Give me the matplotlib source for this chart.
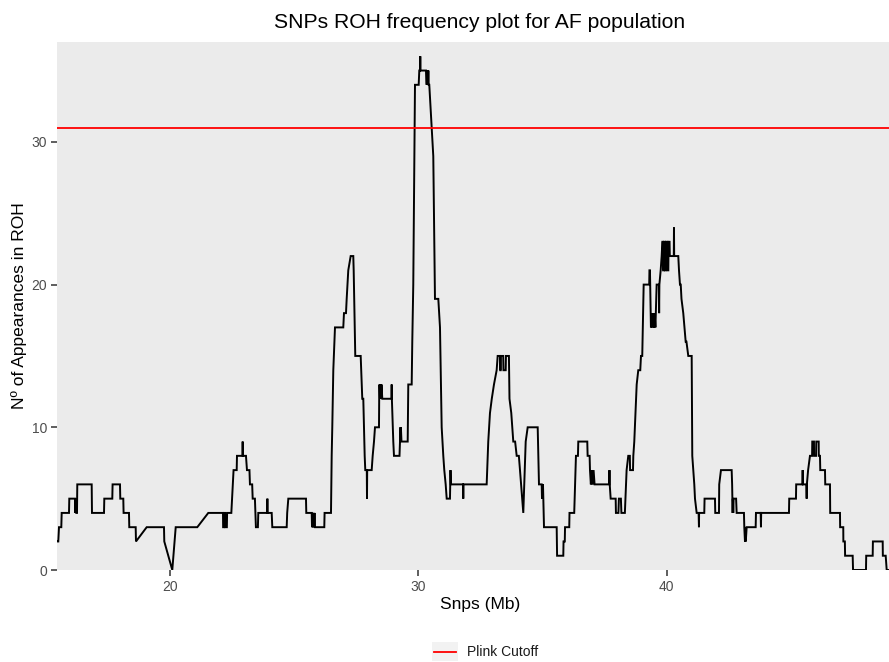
import matplotlib
matplotlib.use("Agg")
import matplotlib.pyplot as plt
from matplotlib.patches import Rectangle
from matplotlib.lines import Line2D

plt.rcParams['font.family'] = ['Liberation Sans', 'DejaVu Sans']

# SNP position (Mb) and number of individuals with that SNP inside a ROH
pos = [15.449, 15.501, 15.529, 15.622, 15.638, 15.932, 15.944,
       16.174, 16.186, 16.214, 16.226, 16.254, 16.266, 16.846, 16.858,
       17.342, 17.354, 17.676, 17.688, 17.986, 17.998, 18.119, 18.131,
       18.348, 18.360, 18.618, 18.630, 19.061, 19.758, 19.770, 20.092,
       20.230, 21.099, 21.542, 22.134, 22.140, 22.180, 22.190, 22.220,
       22.230, 22.290, 22.300, 22.470, 22.530, 22.560, 22.686, 22.698,
       22.919, 22.927, 22.935, 23.060, 23.100, 23.200, 23.220, 23.310,
       23.330, 23.420, 23.460, 23.540, 23.556, 23.914, 23.922, 23.930,
       24.096, 24.120, 24.700, 24.720, 24.765, 25.477, 25.489, 25.707,
       25.720, 25.740, 25.760, 25.780, 25.800, 25.820, 25.840, 26.214,
       26.226, 26.484, 26.512, 26.536, 26.577, 26.645, 26.979, 27.007,
       27.088, 27.116, 27.180, 27.277, 27.382, 27.398, 27.462, 27.680,
       27.744, 27.785, 27.841, 27.865, 27.926, 27.934, 27.942, 28.123,
       28.163, 28.216, 28.256, 28.417, 28.425, 28.437, 28.457, 28.477,
       28.497, 28.518, 28.550, 28.920, 28.928, 28.936, 28.993, 29.021,
       29.243, 29.283, 29.291, 29.299, 29.323, 29.573, 29.597, 29.734,
       29.758, 29.798, 29.867, 30.016, 30.040, 30.072, 30.080, 30.088,
       30.310, 30.338, 30.350, 30.362, 30.376, 30.390, 30.405, 30.419,
       30.443, 30.604, 30.672, 30.806, 30.874, 30.942, 31.007, 31.047,
       31.103, 31.144, 31.276, 31.297, 31.313, 31.804, 31.812, 31.820,
       32.754, 32.818, 32.887, 32.960, 33.048, 33.156, 33.197, 33.290,
       33.300, 33.320, 33.330, 33.420, 33.430, 33.520, 33.530, 33.650,
       33.673, 33.745, 33.826, 33.900, 33.963, 34.050, 34.096, 34.229,
       34.326, 34.406, 34.809, 34.861, 34.970, 34.982, 35.022, 35.035,
       35.063, 35.574, 35.590, 35.840, 35.850, 35.900, 35.910, 36.080,
       36.090, 36.280, 36.330, 36.350, 36.430, 36.444, 36.806, 36.820,
       36.900, 36.915, 36.950, 36.983, 37.020, 37.060, 37.100, 37.116,
       37.690, 37.700, 37.710, 37.748, 37.950, 37.960, 38.060, 38.080,
       38.160, 38.180, 38.320, 38.390, 38.457, 38.520, 38.530, 38.647,
       38.660, 38.699, 38.796, 38.860, 38.940, 38.969, 39.020, 39.077,
       39.300, 39.310, 39.330, 39.370, 39.400, 39.430, 39.460, 39.490,
       39.520, 39.550, 39.600, 39.690, 39.700, 39.710, 39.762, 39.802,
       39.830, 39.850, 39.860, 39.890, 39.900, 39.930, 39.940, 39.970,
       39.980, 40.030, 40.040, 40.070, 40.080, 40.120, 40.130, 40.290,
       40.298, 40.306, 40.471, 40.500, 40.539, 40.570, 40.600, 40.672,
       40.769, 40.800, 40.874, 41.011, 41.035, 41.075, 41.116, 41.144,
       41.212, 41.290, 41.304, 41.310, 41.518, 41.530, 41.949, 41.960,
       42.110, 42.120, 42.190, 42.621, 42.640, 42.650, 42.660, 42.670,
       42.685, 42.700, 42.800, 42.822, 43.116, 43.130, 43.157, 43.170,
       43.190, 43.225, 43.588, 43.600, 43.790, 43.801, 43.810, 44.929,
       44.940, 45.211, 45.220, 45.470, 45.481, 45.490, 45.630, 45.642,
       45.650, 45.700, 45.775, 45.860, 45.868, 45.936, 45.940, 46.020,
       46.029, 46.126, 46.130, 46.178, 46.190, 46.380, 46.390, 46.581,
       46.590, 46.984, 46.990, 47.116, 47.120, 47.180, 47.190, 47.495,
       47.510, 48.031, 48.040, 48.301, 48.310, 48.704, 48.710, 48.825,
       48.865, 48.958]

count = [2, 2, 3, 3, 4, 4, 5,
         5, 4, 5, 4, 4, 6, 6, 4,
         4, 5, 5, 6, 6, 5, 5, 4,
         4, 3, 3, 2, 3, 3, 2, 0,
         3, 3, 4, 4, 3, 3, 4, 4,
         3, 3, 4, 4, 6, 7, 7, 8,
         8, 9, 8, 8, 7, 7, 6, 6,
         5, 5, 3, 3, 4, 4, 5, 4,
         4, 3, 3, 4, 5, 5, 4, 4,
         3, 4, 3, 4, 3, 4, 3, 3,
         4, 4, 8, 10, 14, 17, 17, 18,
         18, 19, 21, 22, 22, 21, 15, 15,
         12, 12, 8, 7, 7, 5, 7, 7,
         8, 9, 10, 10, 12, 13, 12, 13,
         12, 13, 12, 12, 13, 12, 9, 8,
         8, 10, 9, 10, 9, 9, 13, 13,
         16, 20, 34, 34, 35, 35, 36, 35,
         35, 34, 35, 34, 35, 34, 35, 34,
         34, 29, 19, 19, 17, 10, 8, 7,
         6, 5, 5, 7, 6, 6, 5, 6,
         6, 9, 11, 12, 13, 14, 15, 15,
         14, 14, 15, 15, 14, 14, 15, 15,
         12, 11, 9, 9, 8, 8, 7, 4,
         9, 10, 10, 6, 6, 5, 6, 5,
         3, 3, 1, 1, 2, 2, 3, 3,
         4, 4, 7, 8, 8, 9, 9, 8,
         8, 7, 6, 7, 6, 7, 6, 6,
         6, 7, 6, 5, 5, 4, 4, 5,
         5, 4, 4, 7, 8, 8, 7, 7,
         8, 9, 13, 14, 14, 15, 15, 20,
         20, 21, 21, 17, 18, 17, 18, 17,
         18, 17, 20, 20, 18, 20, 21, 22,
         23, 23, 21, 21, 23, 23, 21, 21,
         23, 23, 21, 21, 23, 23, 22, 22,
         24, 22, 22, 21, 20, 20, 19, 18,
         16, 16, 15, 15, 8, 7, 6, 5,
         4, 4, 3, 4, 4, 5, 5, 4,
         4, 6, 7, 7, 6, 5, 4, 5,
         4, 5, 5, 4, 4, 3, 2, 3,
         2, 3, 3, 4, 4, 3, 4, 4,
         5, 5, 6, 6, 7, 6, 6, 5,
         6, 7, 8, 8, 9, 9, 8, 8,
         9, 9, 8, 8, 7, 7, 6, 6,
         4, 4, 3, 3, 2, 2, 1, 1,
         0, 0, 1, 1, 2, 2, 1, 1,
         0, 0]

cutoff = 31

fig = plt.figure(figsize=(8.89, 6.62), dpi=100)
ax = fig.add_axes([57 / 889, 1 - 570 / 662, 832 / 889, 528 / 662])
ax.set_facecolor('#EBEBEB')
for s in ax.spines.values():
    s.set_visible(False)

ax.plot(pos, count, color='black', lw=1.4, solid_joinstyle='miter')
ax.axhline(cutoff, color='#FF0000', lw=1.3)

ax.set_xlim(pos[0], pos[-1])
ax.set_ylim(0, 37.0)
ax.set_xticks([20, 30, 40])
ax.set_yticks([0, 10, 20, 30])
ax.tick_params(axis='both', colors='#333333', length=4, width=1.1,
               labelsize=10, labelcolor='#4D4D4D', pad=3)

# titles are centred a little right of the panel centre
cx = (480 - 57) / 832
ax.set_xlabel('Snps (Mb)', fontsize=12.5)
ax.xaxis.set_label_coords(cx, -0.052)
ax.set_ylabel('Nº of Appearances in ROH', fontsize=12.5)
ax.yaxis.set_label_coords((27 - 57) / 832, 0.5)
ax.set_title('SNPs ROH frequency plot for AF population', fontsize=15.2,
             pad=10, x=cx)

# legend below the panel
fig.add_artist(Rectangle((432 / 889, 1 - 661 / 662), 26 / 889, 19 / 662,
                         transform=fig.transFigure, facecolor='#F2F2F2',
                         edgecolor='none'))
fig.add_artist(Line2D([434 / 889, 456 / 889], [1 - 652 / 662, 1 - 652 / 662],
                      transform=fig.transFigure, color='#FF0000', lw=1.3))
fig.text(467 / 889, 1 - 652 / 662, 'Plink Cutoff', fontsize=10,
         va='center', ha='left', color='#1A1A1A')

fig.savefig('out.png', dpi=100)
